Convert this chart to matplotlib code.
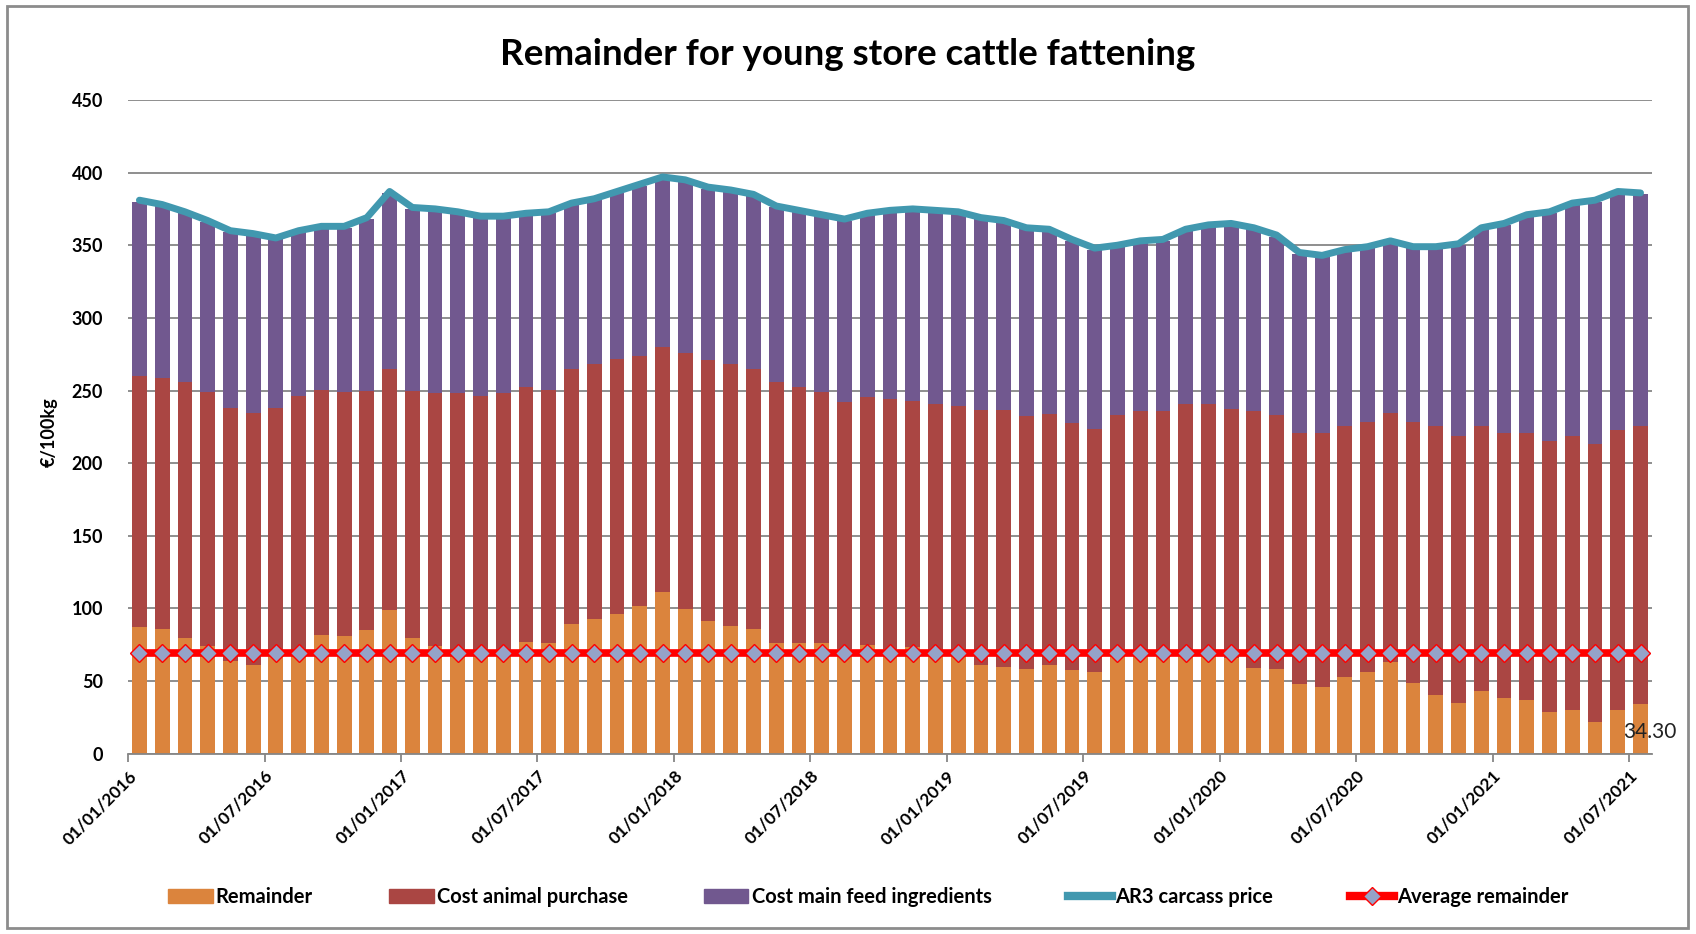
import numpy as np
import pandas as pd
import matplotlib
matplotlib.use("Agg")
import matplotlib.pyplot as plt
from matplotlib.patches import Rectangle
from matplotlib.lines import Line2D

plt.rcParams['font.family'] = ['Lato', 'DejaVu Sans']

# monthly data, Jan 2016 .. Jul 2021 (EUR/100kg)
months = pd.date_range('2016-01-01', periods=67, freq='MS')

remainder = [87, 86, 80, 74, 64, 61, 69, 71, 82, 81, 85, 99,
             80, 74, 70, 69, 68, 77, 76, 89, 93, 96.5, 102, 111,
             99.5, 91.5, 88, 86, 76.5, 76.5, 76.5, 72, 75, 72, 73.5, 69,
             67, 61, 60, 58, 61, 57.5, 56, 67, 68, 68, 68, 68,
             66, 59, 58, 48, 46, 52.5, 56, 63, 49, 40.5, 35, 43.5,
             38.5, 37, 29, 30, 22, 30, 34.3]

animal_cost = [173, 172.5, 176, 175, 174, 173.5, 169, 175.5, 168.5, 168, 165, 165.5,
               170, 174.5, 178.5, 177.5, 180, 175.5, 174.5, 176, 175, 175, 172, 169,
               176.5, 179.5, 180, 178.5, 179.5, 176, 172.5, 170, 170.5, 172.5, 169.5, 172,
               172, 175.5, 176.5, 174.5, 172.5, 170, 167.5, 166, 168, 168, 173, 173,
               171.5, 177, 175, 173, 174.5, 173, 172, 171.5, 179, 185, 184, 182,
               182.5, 184, 186, 189, 191, 192.5, 191.2]

feed_cost = [120, 118.5, 116, 117, 121, 122.5, 116, 112.5, 111.5, 113, 118, 121.5,
             125, 125.5, 123.5, 122.5, 121, 118.5, 121.5, 113, 113, 114.5, 117, 116,
             118, 118, 119, 119.5, 120, 120.5, 121, 125, 125.5, 128.5, 131, 132,
             133, 131.5, 129.5, 128.5, 126.5, 125.5, 123.5, 116, 116, 117, 119, 122,
             126.5, 125, 123, 123, 121.5, 120.5, 120, 117.5, 120, 122.5, 131, 135.5,
             143, 149, 157, 159, 167, 163.5, 159.5]

carcass_price = [381, 378, 373, 367, 360, 358, 355, 360, 363, 363, 369, 387,
                 376, 375, 373, 370, 370, 372, 373, 379, 382, 387, 392, 397,
                 395, 390, 388, 385, 377, 374, 371, 368, 372, 374, 375, 374,
                 373, 369, 367, 362, 361, 354, 348, 350, 353, 354, 361, 364,
                 365, 362, 357, 345, 343, 347, 349, 353, 349, 349, 351, 362,
                 365, 371, 373, 379, 381, 387, 386]

avg_remainder = 69.3

c_rem = '#DB843D'
c_animal = '#AA4643'
c_feed = '#71588F'
c_price = '#4198AF'

fig = plt.figure(figsize=(16.96, 9.34), dpi=100)
ax = fig.add_axes([0.0755, 0.193, 0.8985, 0.7])

x = np.arange(len(months)) + 0.5
w = 0.65
rem = np.array(remainder)
ani = np.array(animal_cost)
feed = np.array(feed_cost)

ax.bar(x, rem, w, color=c_rem, zorder=2)
ax.bar(x, ani, w, bottom=rem, color=c_animal, zorder=2)
ax.bar(x, feed, w, bottom=rem + ani, color=c_feed, zorder=2)
ax.plot(x, carcass_price, color=c_price, lw=5, zorder=3, solid_capstyle='round')
ax.plot(x, [avg_remainder] * len(x), color='#FF0000', lw=5.5, zorder=4,
        marker='D', markersize=9.5, markerfacecolor='#95A3C8',
        markeredgecolor='#FF0000', markeredgewidth=1.0)

ax.text(x[-1] + 0.4, 15, '%.2f' % remainder[-1], ha='center', va='center',
        fontsize=15, color='#222222', zorder=5)

ax.set_xlim(0, len(months))
ax.set_ylim(0, 450)
ax.set_yticks(range(0, 451, 50))
ax.yaxis.grid(True, color='#868686', lw=1.3, zorder=0)
ax.set_axisbelow(True)
for s in ['top', 'right', 'left']:
    ax.spines[s].set_visible(False)
ax.spines['bottom'].set_color('#868686')
ax.spines['bottom'].set_linewidth(1.3)
ax.tick_params(axis='y', length=0, pad=18, labelsize=13)
for lbl in ax.get_yticklabels():
    lbl.set_fontweight('bold')

tick_pos = np.arange(0, len(months), 6)
ax.set_xticks(tick_pos)
ax.set_xticklabels([months[i].strftime('%d/%m/%Y') for i in tick_pos],
                   rotation=45, ha='right', rotation_mode='anchor',
                   fontsize=12.5, fontweight='bold')
ax.tick_params(axis='x', length=6, color='#868686', width=1.3, pad=4)

fig.text(0.5, 0.942, 'Remainder for young store cattle fattening', ha='center',
         va='center', fontsize=26.5, fontweight='bold')
fig.text(0.029, 0.537, '€/100kg', rotation=90, ha='center', va='center',
         fontsize=13, fontweight='bold')

handles = [
    Rectangle((0, 0), 1, 1, color=c_rem),
    Rectangle((0, 0), 1, 1, color=c_animal),
    Rectangle((0, 0), 1, 1, color=c_feed),
    Line2D([], [], color=c_price, lw=6),
    Line2D([], [], color='#FF0000', lw=6, marker='D', markersize=9,
           markerfacecolor='#95A3C8', markeredgecolor='#FF0000'),
]
labels = ['Remainder', 'Cost animal purchase', 'Cost main feed ingredients',
          'AR3 carcass price', 'Average remainder']
fig.legend(handles, labels, loc='center', bbox_to_anchor=(0.512, 0.04), ncol=5,
           frameon=False, prop={'size': 14.5, 'weight': 'bold'},
           handlelength=2.2, handletextpad=0.15, columnspacing=3.8)

fig.add_artist(Rectangle((0.004, 0.006), 0.991, 0.988, transform=fig.transFigure,
                         fill=False, edgecolor='#8C8C8C', lw=2))

fig.savefig('out.png', dpi=100)
